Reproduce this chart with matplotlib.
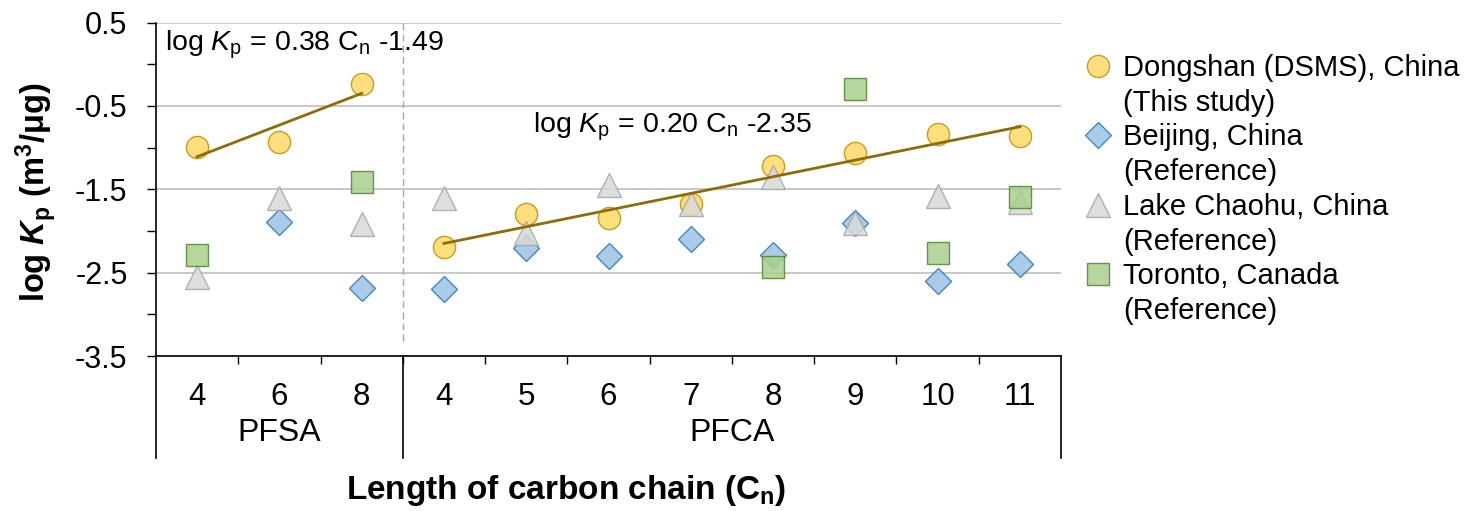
import numpy as np
import matplotlib
matplotlib.use("Agg")
import matplotlib.pyplot as plt
import matplotlib.transforms as mtransforms
from matplotlib.lines import Line2D

plt.rcParams['font.family'] = ['Liberation Sans', 'DejaVu Sans']
plt.rcParams['mathtext.fontset'] = 'custom'
plt.rcParams['mathtext.rm'] = 'Liberation Sans'
plt.rcParams['mathtext.it'] = 'Liberation Sans:italic'
plt.rcParams['mathtext.bf'] = 'Liberation Sans:bold'
plt.rcParams['mathtext.bfit'] = 'Liberation Sans:bold:italic'

# categories: chain length, grouped by acid class
chain = ["4", "6", "8", "4", "5", "6", "7", "8", "9", "10", "11"]
groups = ["PFSA", "PFCA"]
group_sizes = [3, 8]

nan = np.nan
dongshan = [-0.99, -0.93, -0.24, -2.19, -1.80, -1.84, -1.68, -1.22, -1.06, -0.84, -0.86]
beijing = [nan, -1.89, -2.69, -2.70, -2.21, -2.30, -2.10, -2.29, -1.90, -2.60, -2.40]
chaohu = [-2.55, -1.60, -1.92, -1.61, -2.02, -1.45, -1.68, -1.35, -1.91, -1.58, -1.65]
toronto = [-2.29, nan, -1.41, nan, nan, nan, nan, -2.43, -0.30, -2.26, -1.59]

# regression: log Kp = slope * n + intercept, n = position within group
fit_pfsa = (0.38, -1.49)
fit_pfca = (0.20, -2.35)

fig = plt.figure(figsize=(14.8, 5.11), dpi=100)
ax = fig.add_axes([156 / 1480, 1 - 356 / 511, 905 / 1480, 333.5 / 511])

x = np.arange(len(chain))

series = [
    (dongshan, "Dongshan (DSMS), China", "(This study)", "o", 16, "#FFD966", "#BF9000"),
    (beijing, "Beijing, China", "(Reference)", "D", 13.5, "#9DC3E6", "#2E75B6"),
    (chaohu, "Lake Chaohu, China", "(Reference)", "^", 17, "#D9D9D9", "#A6A6A6"),
    (toronto, "Toronto, Canada", "(Reference)", "s", 15.5, "#A9D18E", "#548235"),
]

handles, labels = [], []
for vals, lab1, lab2, mk, ms, fc, ec in series:
    h, = ax.plot(x, vals, ls="none", marker=mk, ms=ms, mfc=fc, mec=ec,
                 mew=1.0, alpha=0.85, zorder=3)
    handles += [h, Line2D([], [], ls="none")]
    labels += [lab1, lab2]

# trend lines
n1 = np.arange(1, group_sizes[0] + 1)
ax.plot(x[:3], fit_pfsa[0] * n1 + fit_pfsa[1], color="#8C6D0A", lw=2.0, zorder=4)
n2 = np.arange(1, group_sizes[1] + 1)
ax.plot(x[3:], fit_pfca[0] * n2 + fit_pfca[1], color="#8C6D0A", lw=2.0, zorder=4)

ax.text(-0.39, 0.23, r"log $\mathit{K}_{\mathrm{p}}$ = 0.38 C$_{\mathrm{n}}$ -1.49",
        fontsize=20.5, va="center", ha="left")
ax.text(4.08, -0.75, r"log $\mathit{K}_{\mathrm{p}}$ = 0.20 C$_{\mathrm{n}}$ -2.35",
        fontsize=20.5, va="center", ha="left")

# dashed separator
ax.plot([2.5, 2.5], [0.5, -3.35], color="#A6A6A6", ls=(0, (5, 3)), lw=1.0, zorder=1)

ax.set_xlim(-0.5, 10.5)
ax.set_ylim(-3.5, 0.5)
ax.set_yticks(np.arange(0.5, -3.6, -1.0))
ax.set_yticks(np.arange(0.0, -3.1, -1.0), minor=True)
ax.set_yticklabels(["0.5", "-0.5", "-1.5", "-2.5", "-3.5"])
ax.tick_params(axis="y", which="both", direction="out", length=6.5, width=1.0,
               labelsize=22, pad=14)
ax.set_xticks(np.arange(0.5, 10, 1.0))
ax.set_xticklabels([])
ax.tick_params(axis="x", direction="out", length=6, width=1.0)
ax.yaxis.grid(True, which="major", color="#BFBFBF", lw=1.2)
ax.set_axisbelow(True)
for s in ["top", "right"]:
    ax.spines[s].set_visible(False)
ax.spines["left"].set_linewidth(1.2)
ax.spines["bottom"].set_linewidth(1.2)

# category labels below axis
trans = mtransforms.blended_transform_factory(ax.transData, ax.transAxes)
for xi, c in zip(x, chain):
    ax.text(xi, -0.123, c, transform=trans, ha="center", va="center", fontsize=22.5)
start = -0.5
for g, size in zip(groups, group_sizes):
    ax.text(start + size / 2, -0.231, g, transform=trans, ha="center", va="center", fontsize=23)
    start += size
for xb in [-0.5, 2.5, 10.5]:
    ax.plot([xb, xb], [0, -0.306], transform=trans, color="black", lw=1.2, clip_on=False)

fig.text(566 / 1480, 1 - 490 / 511, r"Length of carbon chain (C$_{\mathbf{n}}$)",
         fontsize=24, fontweight="bold", ha="center", va="center")
fig.text(37 / 1480, 1 - 192 / 511,
         r"log $\mathbfit{K}_{\mathbf{p}}$ (m$^{\mathbf{3}}$/μg)",
         fontsize=23.5, fontweight="bold", ha="center", va="center", rotation=90)

ax.legend(handles, labels, loc="upper left", bbox_to_anchor=(1085 / 1480, 1 - 54 / 511),
          bbox_transform=fig.transFigure, frameon=False, fontsize=21,
          handlelength=0.9, handletextpad=0.4, labelspacing=0.23,
          borderpad=0, borderaxespad=0)

fig.savefig("out.png", dpi=100)
